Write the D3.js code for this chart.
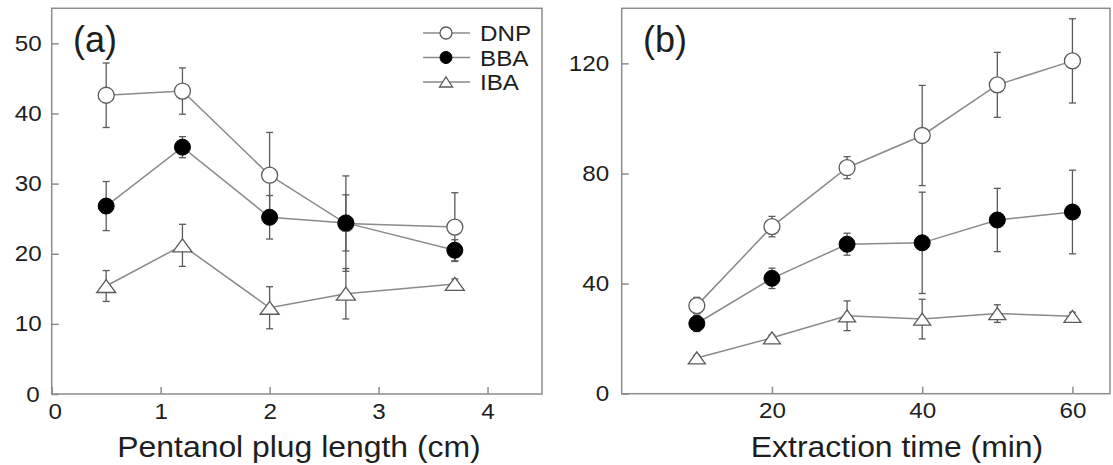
<!DOCTYPE html>
<html>
<head>
<meta charset="utf-8">
<script src="https://cdn.jsdelivr.net/npm/d3@7/dist/d3.min.js"></script>
<style>
  html, body { margin: 0; padding: 0; background: #fff; }
  svg { display: block; font-family: "Liberation Sans", Arial, sans-serif; }
</style>
</head>
<body>
<svg id="chart" width="1113" height="465"></svg>
<script>
// ---------- Data ----------
const seriesNames = ["DNP", "BBA", "IBA"];

// Panel (a): pentanol plug length (cm)
const plugLength = [0.5, 1.2, 2.0, 2.7, 3.7];
const dnpA = [42.6, 43.2, 31.2, 24.3, 23.8];
const dnpAErr = [4.6, 3.3, 6.1, 6.8, 4.9];
const bbaA = [26.8, 35.2, 25.2, 24.4, 20.5];
const bbaAErr = [3.5, 1.5, 3.1, 4.0, 1.5];
const ibaA = [15.4, 21.2, 12.3, 14.3, 15.7];
const ibaAErr = [2.2, 3.0, 3.0, 3.6, 0.7];

// Panel (b): extraction time (min)
const extractionTime = [10, 20, 30, 40, 50, 60];
const dnpB = [32.0, 60.7, 82.1, 93.8, 112.2, 120.9];
const dnpBErr = [3.0, 3.7, 4.0, 18.2, 11.8, 15.3];
const bbaB = [25.5, 41.9, 54.3, 54.8, 63.1, 66.0];
const bbaBErr = [2.9, 3.7, 4.0, 18.4, 11.5, 15.2];
const ibaB = [13.0, 20.3, 28.3, 27.1, 29.1, 28.1];
const ibaBErr = [1.0, 1.0, 5.4, 7.2, 3.2, 1.5];

// Ticks
const xTicksA = [0, 1, 2, 3, 4];
const yTicksA = [0, 10, 20, 30, 40, 50];
const xTicksB = [20, 40, 60];
const yTicksB = [0, 40, 80, 120];

const panelLabels = ["(a)", "(b)"];
const xTitles = ["Pentanol plug length (cm)", "Extraction time (min)"];

// ---------- Styles ----------
const TEXT = "#1e1e1e";
const FRAME = "#8c8c8c";
const LINE = "#8a8a8a";
const ERR = "#5a5a5a";
const MARK_STROKE = "#5a5a5a";
const SX = 1.1; // horizontal stretch of the text in the reference

const svg = d3.select("#chart");

function marker(g, type, x, y, size) {
  if (type === "open") {
    g.append("circle").attr("cx", x).attr("cy", y).attr("r", size.r)
      .attr("fill", "#fff").attr("stroke", MARK_STROKE).attr("stroke-width", 1.3);
  } else if (type === "filled") {
    g.append("circle").attr("cx", x).attr("cy", y).attr("r", size.r)
      .attr("fill", "#000").attr("stroke", "#000").attr("stroke-width", 1);
  } else {
    const w = size.tw, h = size.th;
    g.append("path")
      .attr("d", `M${x - w / 2},${y + h / 2}L${x + w / 2},${y + h / 2}L${x},${y - h / 2}Z`)
      .attr("fill", "#fff").attr("stroke", MARK_STROKE).attr("stroke-width", 1.3);
  }
}

// stretched text placed at (x, y)
function sText(g, x, y, str, size, anchor) {
  return g.append("text")
    .attr("transform", `translate(${x},${y}) scale(${SX},1)`)
    .attr("text-anchor", anchor || "start")
    .attr("font-size", size).attr("fill", TEXT).text(str);
}

function drawPanel(cfg) {
  const g = svg.append("g");
  const x = d3.scaleLinear().domain(cfg.xDomain).range([cfg.left, cfg.right]);
  const y = d3.scaleLinear().domain(cfg.yDomain).range([cfg.bottom, cfg.top]);

  // Frame
  g.append("rect")
    .attr("x", cfg.left).attr("y", cfg.top)
    .attr("width", cfg.right - cfg.left).attr("height", cfg.bottom - cfg.top)
    .attr("fill", "none").attr("stroke", FRAME).attr("stroke-width", 1.5);

  // Axes (inward ticks)
  const xAxis = g.append("g").attr("transform", `translate(0,${cfg.bottom})`)
    .call(d3.axisBottom(x).tickValues(cfg.xTicks).tickSizeInner(-7).tickSizeOuter(0)
      .tickPadding(cfg.xPad).tickFormat(d3.format("d")));
  const yAxis = g.append("g").attr("transform", `translate(${cfg.left},0)`)
    .call(d3.axisLeft(y).tickValues(cfg.yTicks).tickSizeInner(-7).tickSizeOuter(0)
      .tickPadding(cfg.yPad).tickFormat(d3.format("d")));
  [xAxis, yAxis].forEach(a => {
    a.select(".domain").remove();
    a.selectAll(".tick line").attr("stroke", FRAME).attr("stroke-width", 1.5);
    a.selectAll(".tick text").attr("fill", TEXT).attr("font-size", 22)
      .attr("font-family", '"Liberation Sans", Arial, sans-serif');
  });
  // apply horizontal stretch to tick labels
  xAxis.selectAll(".tick text").each(function (d) {
    const t = d3.select(this);
    const dx = (cfg.zeroShift && d === 0) ? 3 : 0;
    t.attr("transform", `translate(${dx},0) scale(${SX},1)`);
  });
  yAxis.selectAll(".tick text").each(function (d) {
    const t = d3.select(this);
    const xx = +t.attr("x");
    const dx = (cfg.zeroShift && d === 0) ? -2 : 0;
    t.attr("x", 0).attr("transform", `translate(${xx + dx},0) scale(${SX},1)`);
  });

  // Error bars
  cfg.series.forEach(s => {
    cfg.xs.forEach((xv, i) => {
      const cx = x(xv), y1 = y(s.values[i] + s.err[i]), y0 = y(s.values[i] - s.err[i]);
      g.append("line").attr("x1", cx).attr("x2", cx).attr("y1", y1).attr("y2", y0)
        .attr("stroke", ERR).attr("stroke-width", 1.3);
      [y1, y0].forEach(yy => g.append("line").attr("x1", cx - 3.5).attr("x2", cx + 3.5)
        .attr("y1", yy).attr("y2", yy).attr("stroke", ERR).attr("stroke-width", 1.3));
    });
  });
  // Lines
  cfg.series.forEach(s => {
    const pts = cfg.xs.map((xv, i) => ({ x: xv, y: s.values[i] }));
    g.append("path").datum(pts)
      .attr("d", d3.line().x(d => x(d.x)).y(d => y(d.y)))
      .attr("fill", "none").attr("stroke", LINE).attr("stroke-width", 1.5);
  });
  // Markers
  cfg.series.forEach(s => {
    cfg.xs.forEach((xv, i) => marker(g, s.type, x(xv), y(s.values[i]), cfg.markerSize));
  });

  // Panel label
  g.append("text").attr("x", cfg.labelX).attr("y", 52).attr("font-size", 36)
    .attr("fill", TEXT).text(cfg.label);

  // X title
  sText(g, cfg.titleX, 457, cfg.xTitle, 29, "middle");

  return { x, y, g };
}

const types = ["open", "filled", "tri"];

drawPanel({
  left: 51.7, right: 542, top: 8.3, bottom: 394,
  xDomain: [0, 4.5], yDomain: [0, 55],
  xTicks: xTicksA, yTicks: yTicksA, xPad: 9, yPad: 10,
  xs: plugLength,
  series: [
    { type: types[0], values: dnpA, err: dnpAErr },
    { type: types[1], values: bbaA, err: bbaAErr },
    { type: types[2], values: ibaA, err: ibaAErr }
  ],
  markerSize: { r: 8, tw: 19, th: 13 },
  label: panelLabels[0], labelX: 73,
  xTitle: xTitles[0], titleX: 299, zeroShift: true
});

drawPanel({
  left: 621.7, right: 1110, top: 8.3, bottom: 393.7,
  xDomain: [0, 65], yDomain: [0, 140],
  xTicks: xTicksB, yTicks: yTicksB, xPad: 9, yPad: 12.5,
  xs: extractionTime,
  series: [
    { type: types[0], values: dnpB, err: dnpBErr },
    { type: types[1], values: bbaB, err: bbaBErr },
    { type: types[2], values: ibaB, err: ibaBErr }
  ],
  markerSize: { r: 8, tw: 17, th: 12 },
  label: panelLabels[1], labelX: 643,
  xTitle: xTitles[1], titleX: 897, zeroShift: false
});

// Legend (panel a)
const leg = svg.append("g");
seriesNames.forEach((name, i) => {
  const cy = 33 + i * 24.5;
  leg.append("line").attr("x1", 423).attr("x2", 470).attr("y1", cy).attr("y2", cy)
    .attr("stroke", LINE).attr("stroke-width", 1.5);
  marker(leg, types[i], 446, cy, { r: 6, tw: 13, th: 10 });
  sText(leg, 480, cy + 8, name, 22, "start");
});
</script>
</body>
</html>
